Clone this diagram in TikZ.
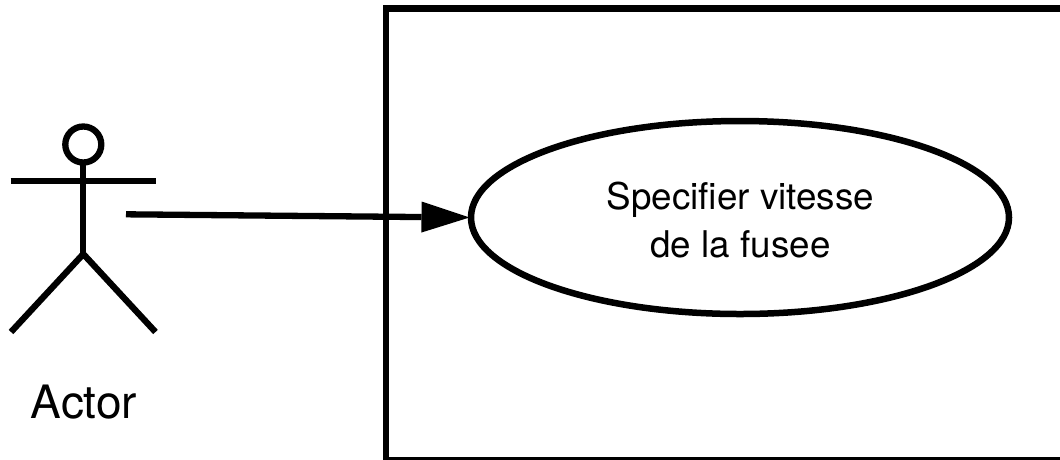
\documentclass[tikz,border=0pt]{standalone}
\usepackage{fontspec}
\setmainfont{TeX Gyre Heros}
\usetikzlibrary{shapes.geometric,arrows.meta}
\tikzset{
  ink/.style={draw=black,line width=6.3pt},
  usecase/.style={ellipse,draw=black,line width=6.5pt,minimum width=538pt,minimum height=193pt,inner sep=0pt,outer sep=0pt},
  uctext/.style={inner sep=0pt,align=center,font=\fontsize{36.8}{48}\selectfont},
  lbl/.style={inner sep=0pt,anchor=base,font=\fontsize{46}{52}\selectfont},
  link/.style={draw=black,line width=6.3pt,shorten >=1.5pt,-{Triangle[length=48pt,width=31pt,line width=0pt]}}
}
\begin{document}
\begin{tikzpicture}[x=1pt,y=-1pt]
\useasboundingbox (0,0) rectangle (1060,459);
\path[ink] (1065,8.5) -- (386,8.5) -- (386,459.8) -- (1065,459.8);
\node[usecase] (uc) at (740,217.5) {};
\node[uctext] (uctxt) at (740.5,220.5) {Specifier vitesse\\de la fusee};
\node[ink,circle,minimum size=36pt,inner sep=0pt,outer sep=0pt] (head) at (83.3,144.5) {};
\coordinate (hip) at (83.3,254);
\coordinate (armL) at (10.5,181);
\coordinate (armR) at (156,181);
\coordinate (legL) at (11,332);
\coordinate (legR) at (155.5,332);
\coordinate (start) at (126,214.3);
\draw[ink] (head.south) -- (hip);
\draw[ink] (armL) -- (armR);
\draw[ink] (legL) -- (hip) -- (legR);
\node[lbl] (actor) at (84,418) {Actor};
\draw[link] (start) -- (uc.west);
\end{tikzpicture}
\end{document}
